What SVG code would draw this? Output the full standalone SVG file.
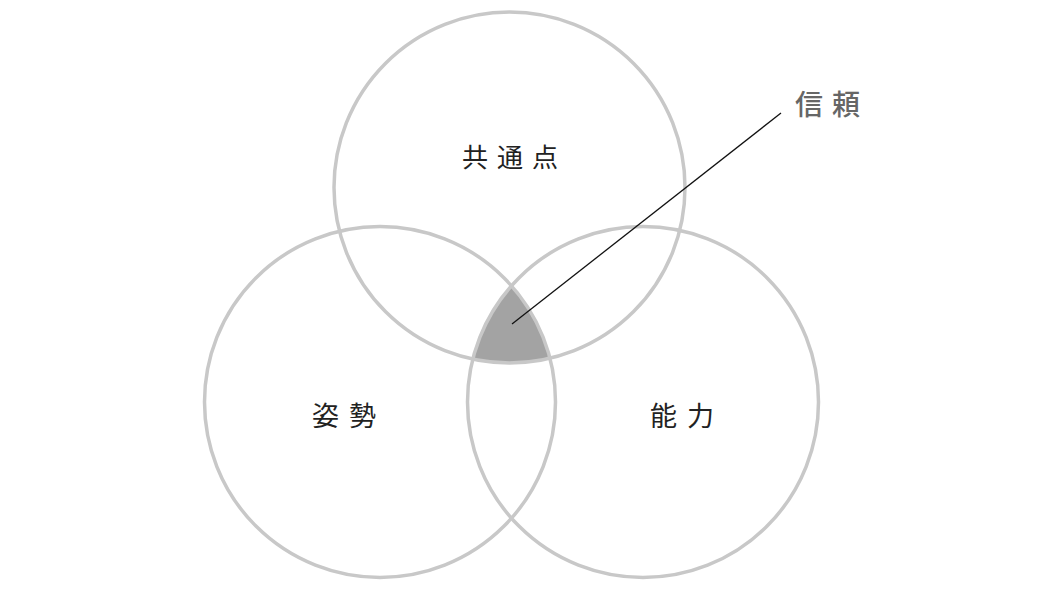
<svg xmlns="http://www.w3.org/2000/svg" width="1050" height="590" viewBox="0 0 1050 590">
<style>
.c{fill:none;stroke:#c8c8c8;stroke-width:3.5}
.t{font-family:"Noto Sans CJK JP","Noto Sans CJK SC",sans-serif;text-anchor:middle;fill:#222}
</style>
<rect width="1050" height="590" fill="#ffffff"/>
<path id="trust-area" d="M511.5 285.8 A175.5 175.5 0 0 0 472.9 359.2 A175.5 175.5 0 0 0 550 358.3 A175.5 175.5 0 0 0 511.5 285.8 Z" fill="#a3a3a3"/>
<g id="top"><circle class="c" cx="509.5" cy="187.5" r="175.5"/><text class="t" x="514.5" y="167" font-size="26" letter-spacing="9">共通点</text></g>
<g id="left"><circle class="c" cx="380" cy="402" r="175.5"/><text class="t" x="349" y="426" font-size="27" letter-spacing="10">姿勢</text></g>
<g id="right"><circle class="c" cx="643" cy="402" r="175.5"/><text class="t" x="687" y="426" font-size="27" letter-spacing="10">能力</text></g>
<g id="connectors"><line x1="512" y1="324" x2="781" y2="113" stroke="#111" stroke-width="1.3"/></g>
<g id="trust"><text class="t" x="832" y="115" font-size="28" letter-spacing="9" font-weight="500" style="fill:#666">信頼</text></g>
</svg>
